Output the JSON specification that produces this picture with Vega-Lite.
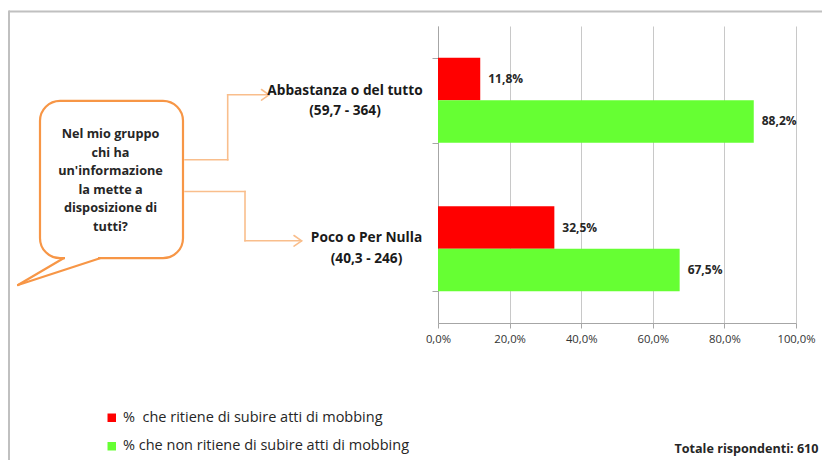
{
  "$schema": "https://vega.github.io/schema/vega-lite/v6.json",
  "padding": {"left": 0, "top": 9, "right": 0, "bottom": 0},
  "background": "white",
  "spacing": 0,
  "bounds": "flush",
  "config": {
    "font": "Open Sans",
    "view": {"stroke": null},
    "locale": {"number": {"decimal": ",", "thousands": ".", "grouping": [3], "currency": ["€", ""]}}
  },
  "hconcat": [
    {
      "width": 438,
      "height": 297,
      "data": {"values": [{}]},
      "layer": [
        {
          "mark": {"type": "rule", "color": "#c0c0c0", "strokeWidth": 2},
          "encoding": {
            "x": {"datum": 9, "type": "quantitative", "scale": {"domain": [0, 438], "nice": false, "zero": false}, "axis": null},
            "x2": {"datum": 822},
            "y": {"datum": 10, "type": "quantitative", "scale": {"domain": [24.5, 321.5], "nice": false, "zero": false, "reverse": true}, "axis": null},
            "y2": {"datum": 10}
          }
        },
        {
          "mark": {"type": "rule", "color": "#c0c0c0", "strokeWidth": 2},
          "encoding": {"x": {"datum": 9, "type": "quantitative"}, "y": {"datum": 9, "type": "quantitative"}, "y2": {"datum": 459}}
        },
        {
          "mark": {"type": "rect", "fill": "white", "stroke": "#F79646", "strokeWidth": 2.2, "cornerRadius": 20},
          "encoding": {"x": {"datum": 40, "type": "quantitative"}, "x2": {"datum": 183}, "y": {"datum": 99.3, "type": "quantitative"}, "y2": {"datum": 256.7}}
        },
        {
          "mark": {"type": "rule", "color": "white", "strokeWidth": 4},
          "encoding": {"x": {"datum": 65, "type": "quantitative"}, "x2": {"datum": 98}, "y": {"datum": 256.7, "type": "quantitative"}, "y2": {"datum": 256.7}}
        },
        {
          "mark": {"type": "rule", "color": "#F79646", "strokeWidth": 2.2, "strokeCap": "round"},
          "encoding": {"x": {"datum": 63.5, "type": "quantitative"}, "x2": {"datum": 18}, "y": {"datum": 256.7, "type": "quantitative"}, "y2": {"datum": 283.5}}
        },
        {
          "mark": {"type": "rule", "color": "#F79646", "strokeWidth": 2.2, "strokeCap": "round"},
          "encoding": {"x": {"datum": 18, "type": "quantitative"}, "x2": {"datum": 100}, "y": {"datum": 283.5, "type": "quantitative"}, "y2": {"datum": 256.7}}
        },
        {
          "mark": {"type": "text", "text": ["Nel mio gruppo", "chi ha", "un'informazione", "la mette a", "disposizione di", "tutti?"], "align": "center", "baseline": "middle", "fontSize": 12.7, "fontWeight": "bold", "lineHeight": 18.5, "color": "#262626"},
          "encoding": {"x": {"datum": 110.5, "type": "quantitative"}, "y": {"datum": 132.7, "type": "quantitative"}}
        },
        {
          "mark": {"type": "rule", "color": "#F9BE8C", "strokeWidth": 1.6, "strokeCap": "square"},
          "encoding": {"x": {"datum": 185, "type": "quantitative"}, "x2": {"datum": 227.7}, "y": {"datum": 158.3, "type": "quantitative"}, "y2": {"datum": 158.3}}
        },
        {
          "mark": {"type": "rule", "color": "#F9BE8C", "strokeWidth": 1.6, "strokeCap": "square"},
          "encoding": {"x": {"datum": 227.7, "type": "quantitative"}, "x2": {"datum": 227.7}, "y": {"datum": 158.3, "type": "quantitative"}, "y2": {"datum": 93.3}}
        },
        {
          "mark": {"type": "rule", "color": "#F9BE8C", "strokeWidth": 1.6, "strokeCap": "square"},
          "encoding": {"x": {"datum": 227.7, "type": "quantitative"}, "x2": {"datum": 268.5}, "y": {"datum": 93.3, "type": "quantitative"}, "y2": {"datum": 93.3}}
        },
        {
          "mark": {"type": "rule", "color": "#F9BE8C", "strokeWidth": 1.6, "strokeCap": "round"},
          "encoding": {"x": {"datum": 261.5, "type": "quantitative"}, "x2": {"datum": 269}, "y": {"datum": 88, "type": "quantitative"}, "y2": {"datum": 93.3}}
        },
        {
          "mark": {"type": "rule", "color": "#F9BE8C", "strokeWidth": 1.6, "strokeCap": "round"},
          "encoding": {"x": {"datum": 261.5, "type": "quantitative"}, "x2": {"datum": 269}, "y": {"datum": 98.6, "type": "quantitative"}, "y2": {"datum": 93.3}}
        },
        {
          "mark": {"type": "rule", "color": "#F9BE8C", "strokeWidth": 1.6, "strokeCap": "square"},
          "encoding": {"x": {"datum": 185, "type": "quantitative"}, "x2": {"datum": 245}, "y": {"datum": 190, "type": "quantitative"}, "y2": {"datum": 190}}
        },
        {
          "mark": {"type": "rule", "color": "#F9BE8C", "strokeWidth": 1.6, "strokeCap": "square"},
          "encoding": {"x": {"datum": 245, "type": "quantitative"}, "x2": {"datum": 245}, "y": {"datum": 190, "type": "quantitative"}, "y2": {"datum": 239.3}}
        },
        {
          "mark": {"type": "rule", "color": "#F9BE8C", "strokeWidth": 1.6, "strokeCap": "square"},
          "encoding": {"x": {"datum": 245, "type": "quantitative"}, "x2": {"datum": 301}, "y": {"datum": 239.3, "type": "quantitative"}, "y2": {"datum": 239.3}}
        },
        {
          "mark": {"type": "rule", "color": "#F9BE8C", "strokeWidth": 1.6, "strokeCap": "round"},
          "encoding": {"x": {"datum": 294, "type": "quantitative"}, "x2": {"datum": 301.7}, "y": {"datum": 234, "type": "quantitative"}, "y2": {"datum": 239.3}}
        },
        {
          "mark": {"type": "rule", "color": "#F9BE8C", "strokeWidth": 1.6, "strokeCap": "round"},
          "encoding": {"x": {"datum": 294, "type": "quantitative"}, "x2": {"datum": 301.7}, "y": {"datum": 244.6, "type": "quantitative"}, "y2": {"datum": 239.3}}
        },
        {
          "mark": {"type": "text", "text": ["Abbastanza o del tutto", "(59,7 - 364)"], "align": "center", "baseline": "middle", "fontSize": 13.7, "fontWeight": "bold", "lineHeight": 20.7, "color": "#1a1a1a"},
          "encoding": {"x": {"datum": 345, "type": "quantitative"}, "y": {"datum": 89.3, "type": "quantitative"}}
        },
        {
          "mark": {"type": "text", "text": ["Poco o Per Nulla", "(40,3 - 246)"], "align": "center", "baseline": "middle", "fontSize": 13.7, "fontWeight": "bold", "lineHeight": 20.7, "color": "#1a1a1a"},
          "encoding": {"x": {"datum": 366.5, "type": "quantitative"}, "y": {"datum": 236.7, "type": "quantitative"}}
        }
      ]
    },
    {
      "width": 358,
      "height": 297,
      "data": {
        "values": [
          {"gruppo": "Abbastanza o del tutto", "serie": "%\u00a0 che ritiene di subire atti di mobbing", "valore": 0.118},
          {"gruppo": "Abbastanza o del tutto", "serie": "% che non ritiene di subire atti di mobbing", "valore": 0.882},
          {"gruppo": "Poco o Per Nulla", "serie": "%\u00a0 che ritiene di subire atti di mobbing", "valore": 0.325},
          {"gruppo": "Poco o Per Nulla", "serie": "% che non ritiene di subire atti di mobbing", "valore": 0.675}
        ]
      },
      "encoding": {
        "y": {
          "field": "gruppo", "type": "nominal",
          "sort": ["Abbastanza o del tutto", "Poco o Per Nulla"],
          "scale": {"paddingInner": 0.428, "paddingOuter": 0.214},
          "axis": {"labels": false, "title": null, "tickBand": "extent", "tickSize": 6, "domainColor": "#a6a6a6", "tickColor": "#a6a6a6", "grid": false}
        },
        "yOffset": {
          "field": "serie", "type": "nominal",
          "sort": ["%\u00a0 che ritiene di subire atti di mobbing", "% che non ritiene di subire atti di mobbing"],
          "scale": {"paddingInner": 0, "paddingOuter": 0}
        },
        "x": {
          "field": "valore", "type": "quantitative",
          "scale": {"domain": [0, 1], "nice": false, "zero": true},
          "axis": {
            "values": [0, 0.2, 0.4, 0.6, 0.8, 1], "format": ".1%", "grid": true, "gridColor": "#c8c8c8",
            "domainColor": "#a6a6a6", "tickColor": "#a6a6a6", "tickSize": 5,
            "labelFontSize": 11.3, "labelColor": "#333333", "labelPadding": 5, "labelFlush": false, "labelOverlap": false,
            "title": "Totale rispondenti: 610", "titleX": 380, "titleY": 125.5, "titleAlign": "right", "titleAnchor": null,
            "titleBaseline": "middle", "titleFontSize": 12.6, "titleFontWeight": "bold", "titleColor": "#262626"
          }
        }
      },
      "layer": [
        {
          "mark": {"type": "bar"},
          "encoding": {
            "color": {
              "field": "serie", "type": "nominal",
              "scale": {"domain": ["%\u00a0 che ritiene di subire atti di mobbing", "% che non ritiene di subire atti di mobbing"], "range": ["#FF0000", "#66FF33"]},
              "legend": {
                "orient": "none", "legendX": 104.5, "legendY": 384.5, "title": null, "direction": "vertical",
                "symbolType": "square", "symbolSize": 72, "symbolStrokeWidth": 0, "symbolOpacity": 1,
                "labelFontSize": 14.5, "labelColor": "#262626", "labelOffset": 4, "rowPadding": 13.5, "padding": 0,
                "labelLimit": 400
              }
            }
          }
        },
        {
          "mark": {"type": "text", "align": "left", "baseline": "middle", "dx": 8, "fontSize": 12, "fontWeight": "bold", "color": "#262626"},
          "encoding": {"text": {"field": "valore", "type": "quantitative", "format": ".1%"}}
        }
      ]
    }
  ]
}
